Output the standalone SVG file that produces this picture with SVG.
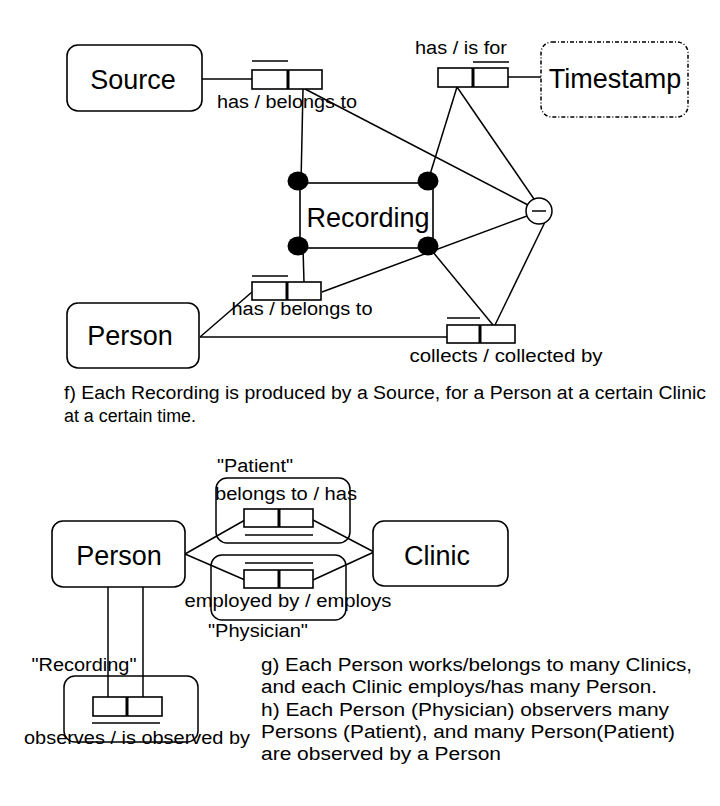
<svg xmlns="http://www.w3.org/2000/svg" width="720" height="806" viewBox="0 0 720 806">
<style>
text{font-family:"Liberation Sans",Arial,sans-serif;fill:#000}
.node{fill:#fff;stroke:#000;stroke-width:1.6}
.big{font-size:27px}
.lbl{font-size:18px}
.txt{font-size:18px}
.rel{fill:#fff;stroke:#000;stroke-width:1.6}
.div{stroke:#000;stroke-width:3}
.bar{stroke:#000;stroke-width:1.5}
.ln{stroke:#000;stroke-width:1.5;fill:none}
.grp{fill:none;stroke:#000;stroke-width:1.5}
</style>
<rect width="720" height="806" fill="#fff"/>
<g id="connectors">
<line class="ln" x1="202" y1="79" x2="252" y2="79"/>
<line class="ln" x1="303" y1="89" x2="301" y2="183"/>
<line class="ln" x1="305" y1="89" x2="528" y2="205"/>
<line class="ln" x1="508" y1="77" x2="542" y2="77"/>
<line class="ln" x1="457" y1="87" x2="428" y2="181"/>
<line class="ln" x1="457" y1="87" x2="534" y2="199"/>
<line class="ln" x1="303" y1="248" x2="304" y2="282"/>
<line class="ln" x1="322" y1="292" x2="527" y2="216"/>
<line class="ln" x1="428" y1="246" x2="493" y2="325"/>
<line class="ln" x1="545" y1="222" x2="495" y2="325"/>
<line class="ln" x1="200" y1="337" x2="252" y2="292"/>
<line class="ln" x1="200" y1="337" x2="447" y2="337"/>
<line class="ln" x1="185" y1="554" x2="245" y2="520"/>
<line class="ln" x1="185" y1="554" x2="245" y2="580"/>
<line class="ln" x1="313" y1="520" x2="374" y2="552"/>
<line class="ln" x1="313" y1="580" x2="374" y2="552"/>
<line class="ln" x1="108" y1="587" x2="108" y2="697"/>
<line class="ln" x1="143" y1="587" x2="143" y2="697"/>
</g>
<g id="source">
<rect class="node" x="67" y="45" width="135" height="66" rx="11"/>
<text class="big" x="133" y="89" text-anchor="middle">Source</text>
</g>
<g id="timestamp">
<rect x="541" y="42" width="147" height="75" rx="11" fill="#fff" stroke="#000" stroke-width="1.5" stroke-dasharray="4,2,1,2"/>
<text class="big" x="615" y="88" text-anchor="middle">Timestamp</text>
</g>
<g id="recording">
<rect class="node" x="300" y="183" width="133" height="65"/>
<text class="big" x="368" y="227" text-anchor="middle">Recording</text>
<ellipse cx="298" cy="181" rx="10.5" ry="9.5"/>
<ellipse cx="428" cy="181" rx="10.5" ry="9.5"/>
<ellipse cx="298" cy="246" rx="10.5" ry="9.5"/>
<ellipse cx="428" cy="246" rx="10.5" ry="9.5"/>
</g>
<g id="person-top">
<rect class="node" x="67" y="303" width="132" height="65" rx="11"/>
<text class="big" x="130" y="345" text-anchor="middle">Person</text>
</g>
<g id="exclusion">
<circle cx="539" cy="211" r="13" fill="#fff" stroke="#000" stroke-width="1.5"/>
<line class="ln" x1="532" y1="211" x2="546" y2="211"/>
</g>
<g id="rel-source">
<rect class="rel" x="252" y="70" width="70" height="19"/>
<line class="div" x1="288" y1="70" x2="288" y2="89"/>
<line class="bar" x1="252" y1="61" x2="288" y2="61"/>
<text class="lbl" x="287" y="108" text-anchor="middle" textLength="140" lengthAdjust="spacingAndGlyphs">has / belongs to</text>
</g>
<g id="rel-timestamp">
<rect class="rel" x="438" y="68" width="70" height="19"/>
<line class="div" x1="473" y1="68" x2="473" y2="87"/>
<line class="bar" x1="473" y1="62" x2="509" y2="62"/>
<text class="lbl" x="461" y="54" text-anchor="middle" textLength="92" lengthAdjust="spacingAndGlyphs">has / is for</text>
</g>
<g id="rel-person">
<rect class="rel" x="252" y="282" width="69" height="18"/>
<line class="div" x1="287" y1="282" x2="287" y2="300"/>
<line class="bar" x1="252" y1="276" x2="288" y2="276"/>
<text class="lbl" x="302" y="315" text-anchor="middle" textLength="141" lengthAdjust="spacingAndGlyphs">has / belongs to</text>
</g>
<g id="rel-collects">
<rect class="rel" x="447" y="325" width="68" height="18"/>
<line class="div" x1="480" y1="325" x2="480" y2="343"/>
<line class="bar" x1="447" y1="318" x2="480" y2="318"/>
<text class="lbl" x="506" y="362" text-anchor="middle" textLength="193" lengthAdjust="spacingAndGlyphs">collects / collected by</text>
</g>
<g id="caption-f">
<text class="txt" x="64" y="399" textLength="642" lengthAdjust="spacingAndGlyphs">f) Each Recording is produced by a Source, for a Person at a certain Clinic</text>
<text class="txt" x="64" y="422" textLength="132" lengthAdjust="spacingAndGlyphs">at a certain time.</text>
</g>
<g id="person-bottom">
<rect class="node" x="52" y="521" width="133" height="66" rx="11"/>
<text class="big" x="119" y="565" text-anchor="middle">Person</text>
</g>
<g id="clinic">
<rect class="node" x="373" y="521" width="135" height="65" rx="11"/>
<text class="big" x="437" y="565" text-anchor="middle">Clinic</text>
</g>
<g id="rel-patient">
<rect class="grp" x="216" y="478" width="134" height="65" rx="11"/>
<rect class="rel" x="244" y="509" width="69" height="18"/>
<line class="div" x1="279" y1="509" x2="279" y2="527"/>
<line class="bar" x1="245" y1="535" x2="313" y2="535"/>
<text class="lbl" x="255" y="472" text-anchor="middle" textLength="76" lengthAdjust="spacingAndGlyphs">"Patient"</text>
<text class="lbl" x="286" y="500" text-anchor="middle" textLength="142" lengthAdjust="spacingAndGlyphs">belongs to / has</text>
</g>
<g id="rel-physician">
<rect class="grp" x="211" y="555" width="135" height="65" rx="11"/>
<rect class="rel" x="244" y="570" width="69" height="18"/>
<line class="div" x1="279" y1="570" x2="279" y2="588"/>
<line class="bar" x1="245" y1="563" x2="313" y2="563"/>
<text class="lbl" x="288" y="607" text-anchor="middle" textLength="207" lengthAdjust="spacingAndGlyphs">employed by / employs</text>
<text class="lbl" x="258" y="637" text-anchor="middle" textLength="100" lengthAdjust="spacingAndGlyphs">"Physician"</text>
</g>
<g id="rel-recording">
<rect class="grp" x="64" y="676" width="134" height="66" rx="11"/>
<rect class="rel" x="93" y="697" width="69" height="19"/>
<line class="div" x1="127" y1="697" x2="127" y2="716"/>
<line class="bar" x1="92" y1="723" x2="160" y2="723"/>
<text class="lbl" x="84" y="671" text-anchor="middle" textLength="105" lengthAdjust="spacingAndGlyphs">"Recording"</text>
<text class="lbl" x="137" y="744" text-anchor="middle" textLength="226" lengthAdjust="spacingAndGlyphs">observes / is observed by</text>
</g>
<g id="caption-gh">
<text class="txt" x="261" y="671" textLength="431" lengthAdjust="spacingAndGlyphs">g) Each Person works/belongs to many Clinics,</text>
<text class="txt" x="261" y="693" textLength="396" lengthAdjust="spacingAndGlyphs">and each Clinic employs/has many Person.</text>
<text class="txt" x="261" y="716" textLength="408" lengthAdjust="spacingAndGlyphs">h) Each Person (Physician) observers many</text>
<text class="txt" x="261" y="738" textLength="414" lengthAdjust="spacingAndGlyphs">Persons (Patient), and many Person(Patient)</text>
<text class="txt" x="261" y="760" textLength="240" lengthAdjust="spacingAndGlyphs">are observed by a Person</text>
</g>
</svg>
